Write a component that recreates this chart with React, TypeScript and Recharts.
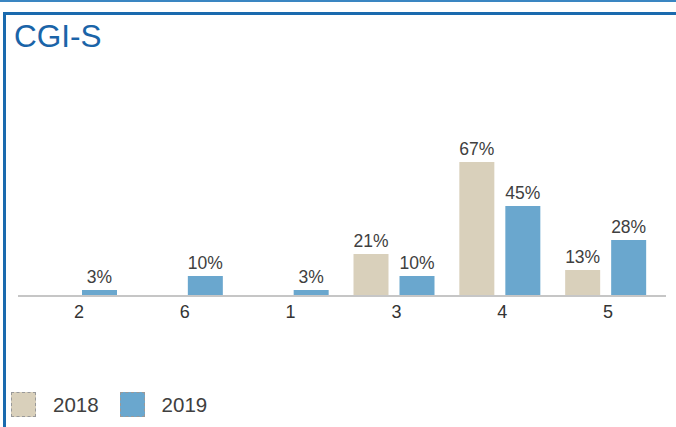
import React from "react";
import { BarChart, Bar, XAxis, YAxis, LabelList } from "recharts";

const categories = ["2", "6", "1", "3", "4", "5"];
const values2018: (number | null)[] = [null, null, null, 21, 67, 13];
const values2019: (number | null)[] = [3, 10, 3, 10, 45, 28];
const seriesNames = ["2018", "2019"];
const seriesColors = ["#d9d0bb", "#6aa7ce"];

const data = categories.map((c, i) => ({
  category: c,
  s2018: values2018[i],
  s2019: values2019[i],
}));

const fmt = (v: any) => (v === null || v === undefined ? "" : `${v}%`);

const Legend = () => (
  <div style={{ position: "absolute", left: 11, top: 392, display: "flex", alignItems: "center" }}>
    {seriesNames.map((name, i) => (
      <div key={name} style={{ display: "flex", alignItems: "center", marginRight: 21 }}>
        <div
          style={{
            width: 23,
            height: 23,
            background: seriesColors[i],
            border: "1px dashed #999",
          }}
        />
        <span style={{ marginLeft: 17, fontSize: 20.5, color: "#404040" }}>{name}</span>
      </div>
    ))}
  </div>
);

const App = () => {
  return (
    <div
      style={{
        position: "fixed",
        left: 0,
        top: 0,
        width: 676,
        height: 427,
        background: "#fff",
        fontFamily: "'Liberation Sans', Arial, sans-serif",
        overflow: "hidden",
      }}
    >
      <div style={{ position: "absolute", left: 0, top: 0, width: 676, height: 1.5, background: "#3a86c2" }} />
      <div style={{ position: "absolute", left: 3, top: 12, width: 673, height: 2.5, background: "#1a6aae" }} />
      <div style={{ position: "absolute", left: 3, top: 12, width: 2.5, height: 415, background: "#1a6aae" }} />
      <div style={{ position: "absolute", left: 14, top: 18, fontSize: 31.5, color: "#1a64a8" }}>CGI-S</div>
      <div style={{ position: "absolute", left: 0, top: 0 }}>
        <BarChart
          width={676}
          height={427}
          data={data}
          barSize={35}
          barGap={11}
          margin={{ top: 96, right: 10, left: 18, bottom: 101 }}
        >
          <XAxis
            dataKey="category"
            axisLine={{ stroke: "#c6c6c6", strokeWidth: 2 }}
            tickLine={false}
            padding={{ left: 6, right: 7 }}
            tick={{ fontSize: 18, fill: "#333", dx: 2, dy: 1 }}
            height={30}
          />
          <YAxis hide domain={[0, 100]} />
          <Bar dataKey="s2018" name="2018" fill={seriesColors[0]} isAnimationActive={false}>
            <LabelList dataKey="s2018" position="top" offset={7} formatter={fmt} fill="#404040" fontSize={17.5} />
          </Bar>
          <Bar dataKey="s2019" name="2019" fill={seriesColors[1]} isAnimationActive={false}>
            <LabelList dataKey="s2019" position="top" offset={7} formatter={fmt} fill="#404040" fontSize={17.5} />
          </Bar>
        </BarChart>
      </div>
      <Legend />
    </div>
  );
};

export default App;
